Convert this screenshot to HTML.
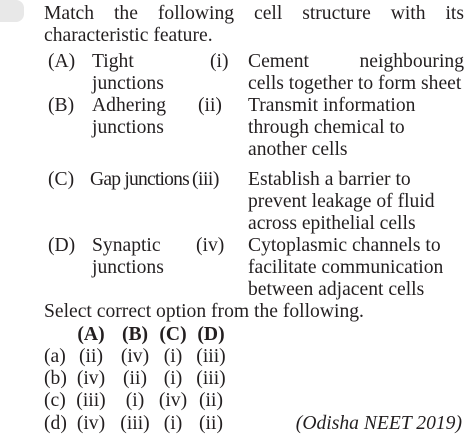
<!DOCTYPE html>
<html><head><meta charset="utf-8"><style>
body{margin:0;width:468px;height:441px;background:#fff;position:relative;overflow:hidden;font-family:"Liberation Serif",serif;font-size:19.6px;color:#231f20}
.l{position:absolute;line-height:22px;white-space:nowrap}
.j{text-align:justify;text-align-last:justify;white-space:normal}
.c{position:absolute;line-height:22px;width:44px;text-align:center;white-space:nowrap}
b{font-weight:bold}
</style></head><body>
<div style="position:absolute;left:-6px;top:0;width:30px;height:22px;background:#e8e8e8;border-radius:0 8px 8px 0"></div>
<div>
<div class="l j" style="left:44px;top:3px;width:420px">Match the following cell structure with its</div>
<div class="l" style="left:44px;top:25px">characteristic feature.</div>
<div class="l" style="left:48px;top:51px">(A)</div><div class="l" style="left:92px;top:51px">Tight</div>
<div class="l" style="left:92px;top:73px">junctions</div>
<div class="l" style="left:48px;top:95px">(B)</div><div class="l" style="left:92px;top:95px">Adhering</div>
<div class="l" style="left:92px;top:117px">junctions</div>
<div class="l" style="left:48px;top:169px">(C)</div><div class="l" style="left:90px;top:169px;letter-spacing:-0.8px">Gap junctions</div>
<div class="l" style="left:48px;top:235px">(D)</div><div class="l" style="left:92px;top:235px">Synaptic</div>
<div class="l" style="left:92px;top:257px">junctions</div>
<div class="l" style="left:210px;top:51px">(i)</div><div class="l j" style="left:248px;top:51px;width:216px">Cement neighbouring</div>
<div class="l" style="left:248px;top:73px">cells together to form sheet</div>
<div class="l" style="left:198px;top:95px">(ii)</div><div class="l" style="left:248px;top:95px">Transmit information</div>
<div class="l" style="left:248px;top:117px">through chemical to</div>
<div class="l" style="left:248px;top:139px">another cells</div>
<div class="l" style="left:192px;top:169px;letter-spacing:-0.5px">(iii)</div><div class="l" style="left:248px;top:169px">Establish a barrier to</div>
<div class="l" style="left:248px;top:191px">prevent leakage of fluid</div>
<div class="l" style="left:248px;top:213px">across epithelial cells</div>
<div class="l" style="left:196px;top:235px">(iv)</div><div class="l" style="left:248px;top:235px">Cytoplasmic channels to</div>
<div class="l" style="left:248px;top:257px">facilitate communication</div>
<div class="l" style="left:248px;top:279px">between adjacent cells</div>
<div class="l" style="left:44px;top:301px">Select correct option from the following.</div>
</div>
<div>
<div class="c" style="left:69px;top:324px"><b>(A)</b></div><div class="c" style="left:113px;top:324px"><b>(B)</b></div><div class="c" style="left:151px;top:324px"><b>(C)</b></div><div class="c" style="left:189px;top:324px"><b>(D)</b></div>
<div>
<div class="l" style="left:44px;top:346px">(a)</div><div class="c" style="left:69px;top:346px">(ii)</div><div class="c" style="left:113px;top:346px">(iv)</div><div class="c" style="left:151px;top:346px">(i)</div><div class="c" style="left:189px;top:346px">(iii)</div></div>
<div>
<div class="l" style="left:44px;top:368px">(b)</div><div class="c" style="left:69px;top:368px">(iv)</div><div class="c" style="left:113px;top:368px">(ii)</div><div class="c" style="left:151px;top:368px">(i)</div><div class="c" style="left:189px;top:368px">(iii)</div></div>
<div>
<div class="l" style="left:44px;top:390px">(c)</div><div class="c" style="left:69px;top:390px">(iii)</div><div class="c" style="left:113px;top:390px">(i)</div><div class="c" style="left:151px;top:390px">(iv)</div><div class="c" style="left:189px;top:390px">(ii)</div></div>
<div>
<div class="l" style="left:44px;top:413px">(d)</div><div class="c" style="left:69px;top:413px">(iv)</div><div class="c" style="left:113px;top:413px">(iii)</div><div class="c" style="left:151px;top:413px">(i)</div><div class="c" style="left:189px;top:413px">(ii)</div></div>
<div class="l" style="right:6px;top:413px;font-style:italic">(Odisha NEET 2019)</div>
</div>
</body></html>
